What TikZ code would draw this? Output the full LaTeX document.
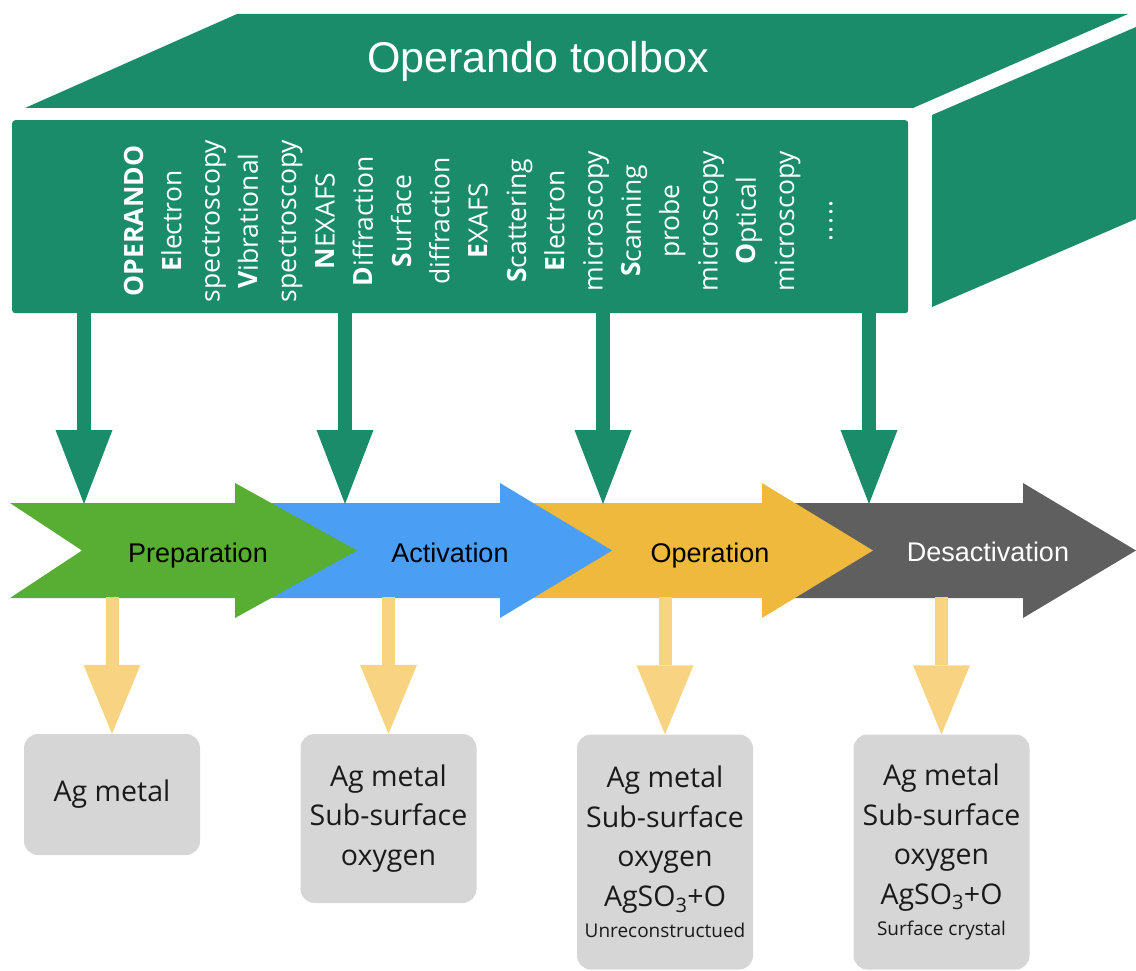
\documentclass[tikz,border=0pt]{standalone}
\usepackage{fontspec}
\setmainfont{Open Sans}
\newfontfamily\arialfont{Liberation Sans}
\usetikzlibrary{arrows.meta}
\definecolor{boxgreen}{HTML}{1B8C6A}
\definecolor{cgreen}{HTML}{58AD33}
\definecolor{cblue}{HTML}{4A9FF5}
\definecolor{corange}{HTML}{EFB93E}
\definecolor{cgray}{HTML}{5F5F5F}
\definecolor{cyellow}{HTML}{F8D482}
\definecolor{boxgray}{HTML}{D6D6D6}
\definecolor{txtdark}{HTML}{1A1A1A}
\newcommand\myfivedots{.\kern1.6pt.\kern1.6pt.\kern1.6pt.\kern1.6pt.}
\begin{document}
\begin{tikzpicture}[x=1pt,y=-1pt,
  face/.style={fill=boxgreen},
  vtext/.style={text=white, inner sep=0pt, rotate=90, anchor=base, font=\fontsize{26.5}{30}\selectfont},
  phase/.style={inner sep=0pt, anchor=base, font=\arialfont\fontsize{27}{32}\selectfont},
  gconn/.style={draw=boxgreen, line width=14pt, -{Triangle[length=74pt,width=57pt,line width=0pt]}},
  yconn/.style={draw=cyellow, line width=13pt, -{Triangle[length=69pt,width=57pt,line width=0pt]}},
  gbox/.style={fill=boxgray, rounded corners=14pt, minimum width=176pt, align=center, inner sep=0pt, text=txtdark, font=\fontsize{28.5}{39.5}\selectfont}
]
\useasboundingbox (0,0) rectangle (1136,971);
% toolbox
\fill[face] (25,108) -- (237,14) -- (1128,14) -- (913,108) -- cycle;
\fill[face] (932,115) -- (1136,27) -- (1136,219) -- (932,307) -- cycle;
\node[face, rounded corners=3pt, minimum width=896pt, minimum height=193pt, inner sep=0pt, anchor=north west] (front) at (12,120) {};
\node[text=white, inner sep=0pt, anchor=base, font=\arialfont\fontsize{43}{48}\selectfont] (title) at (538,73) {Operando toolbox};
\foreach \t [count=\i from 0] in {\textbf{OPERANDO},\textbf{E}lectron,spectroscopy,\textbf{V}ibrational,spectroscopy,\textbf{N}EXAFS,\textbf{D}iffraction,\textbf{S}urface,diffraction,\textbf{E}XAFS,\textbf{S}cattering,\textbf{E}lectron,microscopy,\textbf{S}canning,probe,microscopy,\textbf{O}ptical,microscopy,\myfivedots}
  \node[vtext] (v\i) at ({143+38.3*\i},221) {\t};
% process chevrons
\fill[cgray] (770,503) -- (1023,503) -- (1023,483) -- (1136,550.5) -- (1023,618) -- (1023,598) -- (770,598) -- (842,550.5) -- cycle;
\fill[corange] (510,503) -- (762,503) -- (762,483) -- (873,550.5) -- (762,618) -- (762,598) -- (510,598) -- (582,550.5) -- cycle;
\fill[cblue] (250,503) -- (500,503) -- (500,483) -- (612,550.5) -- (500,618) -- (500,598) -- (250,598) -- (322,550.5) -- cycle;
\fill[cgreen] (10,503) -- (235,503) -- (235,483) -- (357,550.5) -- (235,618) -- (235,598) -- (10,598) -- (82,550.5) -- cycle;
\node[phase] (prep) at (198,562) {Preparation};
\node[phase] (act) at (450,562) {Activation};
\node[phase] (oper) at (710,562) {Operation};
\node[phase, text=white] (desact) at (988,561) {Desactivation};
% targets on chevrons
\coordinate (t1) at (84,504);
\coordinate (t2) at (345,504);
\coordinate (t3) at (603,504);
\coordinate (t4) at (869,504);
\foreach \k in {1,2,3,4} \draw[gconn] (t\k |- front.south) -- (t\k);
% result boxes
\node[gbox, minimum height=121pt] (b1) at (112,794.5) {Ag metal};
\node[gbox, minimum height=169pt] (b2) at (388.5,818.5) {Ag metal\\Sub-surface\\oxygen};
\node[gbox, minimum height=235pt] (b3) at (665,852) {Ag metal\\Sub-surface\\oxygen\\AgSO\textsubscript{3}+O\\[-8pt]{\fontsize{19}{23}\selectfont Unreconstructued}};
\node[gbox, minimum height=235pt] (b4) at (941.5,852) {Ag metal\\Sub-surface\\oxygen\\AgSO\textsubscript{3}+O\\[-8pt]{\fontsize{19}{23}\selectfont Surface crystal}};
\coordinate (s1) at (112,597);
\coordinate (s2) at (388.5,597);
\coordinate (s3) at (665,597);
\coordinate (s4) at (941.5,597);
\foreach \k in {1,2,3,4} \draw[yconn] (s\k) -- (b\k.north);
\end{tikzpicture}
\end{document}
